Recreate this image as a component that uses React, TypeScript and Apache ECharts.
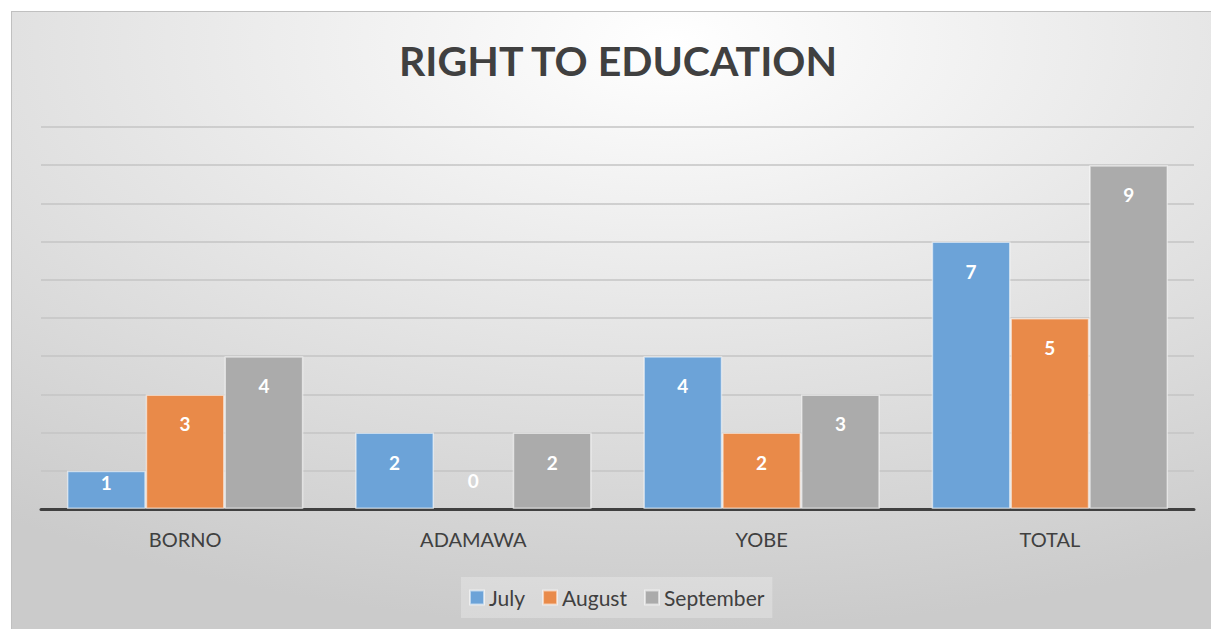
import React, { useEffect, useRef } from "react";
import * as echarts from "echarts";

const categories = ["BORNO", "ADAMAWA", "YOBE", "TOTAL"];
const july = [1, 2, 4, 7];
const august = [3, 0, 2, 5];
const september = [4, 2, 3, 9];
const seriesNames = ["July", "August", "September"];
const colors = ["#6ca3d8", "#e98a49", "#ababab"];
const titleText = "RIGHT TO EDUCATION";

const FONT = "Lato, 'Open Sans', sans-serif";

function makeData(values: number[]) {
  return values.map((v) => {
    if (v === 0) {
      return {
        value: v,
        label: { position: "top", distance: 19 },
        itemStyle: { borderWidth: 0 },
      };
    }
    if (v === 1) {
      return { value: v, label: { position: "insideTop", distance: 2 } };
    }
    return { value: v };
  });
}

export default function App() {
  const ref = useRef<HTMLDivElement>(null);
  useEffect(() => {
    if (!ref.current) return;
    const chart = echarts.init(ref.current, null, { renderer: "svg" });
    const allValues = [july, august, september];
    chart.setOption({
      animation: false,
      backgroundColor: {
        type: "radial",
        x: 0.55,
        y: 0.05,
        r: 0.95,
        colorStops: [
          { offset: 0, color: "#ffffff" },
          { offset: 1, color: "#cbcbcb" },
        ],
      },
      title: {
        text: titleText,
        left: 382,
        top: 23,
        textStyle: {
          fontFamily: FONT,
          fontWeight: "bold",
          fontSize: 41,
          color: "#404040",
        },
      },
      legend: {
        data: seriesNames,
        bottom: 11,
        left: 449,
        itemWidth: 14,
        itemHeight: 14,
        itemGap: 17,
        padding: [10, 8, 10, 8],
        backgroundColor: "rgba(255,255,255,0.25)",
        icon: "rect",
        textStyle: { fontFamily: FONT, fontSize: 21, color: "#404040" },
      },
      grid: { left: 29, right: 17, top: 115, bottom: 120 },
      xAxis: {
        type: "category",
        data: categories,
        axisLine: { lineStyle: { color: "#404040", width: 3 } },
        axisTick: { show: false },
        axisLabel: {
          fontFamily: FONT,
          fontSize: 20,
          color: "#404040",
          margin: 20,
        },
      },
      yAxis: {
        type: "value",
        min: 0,
        max: 10,
        interval: 1,
        axisLabel: { show: false },
        axisLine: { show: false },
        axisTick: { show: false },
        splitLine: { lineStyle: { color: "#c4c4c4", width: 1.5 } },
      },
      series: seriesNames.map((name, i) => ({
        name,
        type: "bar",
        data: makeData(allValues[i]),
        barGap: "0%",
        barCategoryGap: "18%",
        itemStyle: {
          color: colors[i],
          borderColor: "rgba(255,255,255,0.55)",
          borderWidth: 1.5,
        },
        label: {
          show: true,
          position: "insideTop",
          distance: 20,
          fontFamily: FONT,
          fontWeight: "bold",
          fontSize: 19,
          color: "#ffffff",
        },
      })),
    });
    return () => chart.dispose();
  }, []);
  return (
    <div
      style={{
        position: "absolute",
        left: 11,
        top: 11,
        width: 1200,
        height: 618,
        borderLeft: "1px solid #c0c0c0",
        borderTop: "1px solid #c0c0c0",
        boxSizing: "border-box",
      }}
    >
      <div ref={ref} style={{ width: 1199, height: 617 }} />
    </div>
  );
}
